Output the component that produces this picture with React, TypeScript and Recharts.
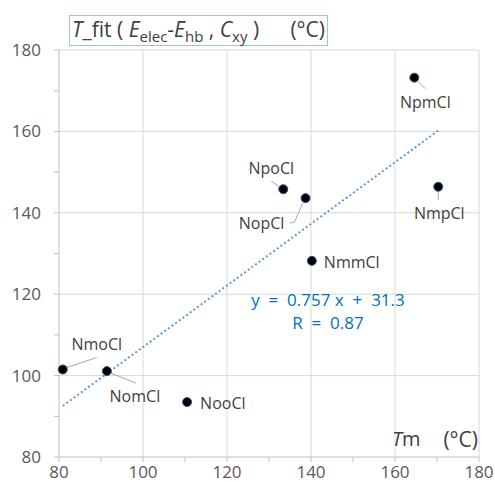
import React from "react";
import {
  ScatterChart,
  Scatter,
  XAxis,
  YAxis,
  CartesianGrid,
  ReferenceLine,
} from "recharts";

// melting point Tm vs fitted T (°C)
const names = ["NmoCl", "NomCl", "NooCl", "NpoCl", "NopCl", "NmmCl", "NmpCl", "NpmCl"];
const tmValues = [80.9, 91.4, 110.5, 133.4, 138.7, 140.2, 170.3, 164.6];
const tFitValues = [101.5, 101.1, 93.5, 145.8, 143.6, 128.2, 146.4, 173.2];

const xTicks = [80, 90, 100, 110, 120, 130, 140, 150, 160, 170, 180];
const yTicks = [80, 90, 100, 110, 120, 130, 140, 150, 160, 170, 180];
const gridValues = [100, 120, 140, 160, 180];

const slope = 0.757;
const intercept = 31.3;
const rValue = 0.87;

// label placement relative to the point (px)
const labelPlacement: Record<
  string,
  { dx: number; dy: number; anchor: "start" | "middle"; leader?: [number, number][] }
> = {
  NmoCl: { dx: 34, dy: -25, anchor: "middle", leader: [[4, -2], [34, -12]] },
  NomCl: { dx: 28, dy: 25, anchor: "middle", leader: [[4, 2], [29, 12]] },
  NooCl: { dx: 13, dy: 1, anchor: "start" },
  NpoCl: { dx: -12, dy: -21, anchor: "middle", leader: [[-12, -8], [-3, -2]] },
  NopCl: { dx: -44, dy: 25, anchor: "middle", leader: [[-16, 25], [-11, 24], [-3, 5]] },
  NmmCl: { dx: 12, dy: 1, anchor: "start" },
  NmpCl: { dx: 1, dy: 26, anchor: "middle", leader: [[0, 5], [0, 13]] },
  NpmCl: { dx: 11, dy: 24, anchor: "middle", leader: [[3, 3], [11, 11]] },
};

const data = names.map((name, i) => ({ name, x: tmValues[i], y: tFitValues[i] }));

const xMin = Math.min(...tmValues);
const xMax = Math.max(...tmValues);

const font = "'Open Sans', sans-serif";

const PointShape = (props: any) => {
  const { cx, cy, payload } = props;
  const p = labelPlacement[payload.name];
  return (
    <g>
      {p.leader && (
        <polyline
          points={p.leader.map(([a, b]) => `${cx + a},${cy + b}`).join(" ")}
          fill="none"
          stroke="#A6A6A6"
          strokeWidth={1}
        />
      )}
      <circle cx={cx} cy={cy} r={4.5} fill="#000" stroke="#2F5597" strokeWidth={1} />
      <text
        x={cx + p.dx}
        y={cy + p.dy}
        textAnchor={p.anchor}
        dominantBaseline="central"
        fontFamily={font}
        fontSize={16}
        fill="#404040"
      >
        {payload.name}
      </text>
    </g>
  );
};

export default function App() {
  return (
    <div style={{ position: "absolute", left: 0, top: 0, width: 495, height: 484, background: "#fff" }}>
      <ScatterChart
        width={495}
        height={484}
        margin={{ top: 50, right: 16, bottom: 0, left: 0 }}
      >
        <CartesianGrid
          stroke="#D9D9D9"
          horizontalValues={gridValues}
          verticalValues={gridValues}
        />
        <XAxis
          type="number"
          dataKey="x"
          domain={[80, 180]}
          ticks={xTicks}
          interval={0}
          height={27}
          tickSize={5}
          tickMargin={4}
          tickFormatter={(v: number) => (v % 20 === 0 ? String(v) : "")}
          axisLine={{ stroke: "#BFBFBF" }}
          tickLine={{ stroke: "#BFBFBF" }}
          tick={{ fill: "#595959", fontSize: 17, fontFamily: font }}
        />
        <YAxis
          type="number"
          dataKey="y"
          domain={[80, 180]}
          ticks={yTicks}
          interval={0}
          width={59}
          tickSize={5}
          tickMargin={13}
          tickFormatter={(v: number) => (v % 20 === 0 ? String(v) : "")}
          axisLine={{ stroke: "#BFBFBF" }}
          tickLine={{ stroke: "#BFBFBF" }}
          tick={{ fill: "#595959", fontSize: 17, fontFamily: font }}
        />
        <ReferenceLine
          segment={[
            { x: xMin, y: slope * xMin + intercept },
            { x: xMax, y: slope * xMax + intercept },
          ]}
          stroke="#5B9BD5"
          strokeWidth={2}
          strokeDasharray="2 2.5"
          ifOverflow="visible"
        />
        <Scatter data={data} shape={PointShape} isAnimationActive={false} />
      </ScatterChart>

      <div
        style={{
          position: "absolute",
          left: 69,
          top: 15,
          width: 259,
          height: 31,
          boxSizing: "border-box",
          border: "1px solid #9DC3E6",
          background: "#fff",
          fontFamily: font,
          fontSize: 21,
          color: "#404040",
          lineHeight: "27px",
          paddingLeft: 2,
          whiteSpace: "pre",
        }}
      >
        <i>T</i>_fit ( <i>E</i>
        <sub style={{ fontSize: 15 }}>elec</sub>-<i>E</i>
        <sub style={{ fontSize: 15 }}>hb</sub> , <i>C</i>
        <sub style={{ fontSize: 15 }}>xy</sub> )
        <span style={{ position: "absolute", right: 2, top: 0 }}>(°C)</span>
      </div>

      <div
        style={{
          position: "absolute",
          left: 228,
          top: 288,
          width: 200,
          textAlign: "center",
          fontFamily: font,
          fontSize: 17,
          color: "#0070C0",
          lineHeight: "23px",
          whiteSpace: "pre",
        }}
      >
        {`y  =  ${slope} x  +  ${intercept}`}
        <br />
        {`R  =  ${rValue}`}
      </div>

      <div
        style={{
          position: "absolute",
          left: 392,
          top: 425,
          width: 86,
          fontFamily: font,
          fontSize: 20,
          color: "#404040",
          whiteSpace: "pre",
        }}
      >
        <i>T</i>m
        <span style={{ position: "absolute", right: 0, top: 0, fontSize: 21 }}>(°C)</span>
      </div>
    </div>
  );
}
